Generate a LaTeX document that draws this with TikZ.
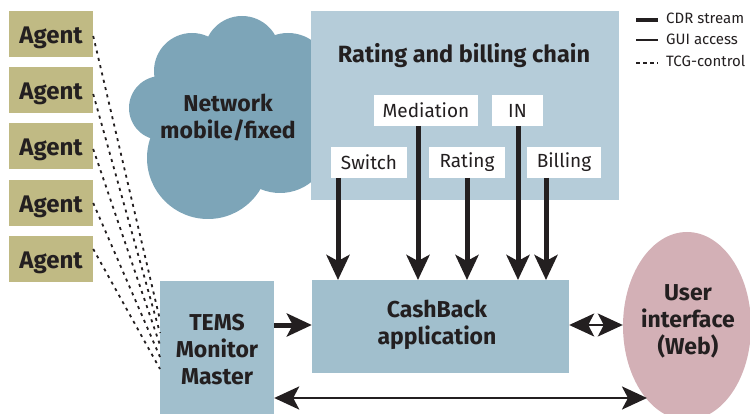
\documentclass[tikz,border=0pt]{standalone}
\usepackage{fontspec}
\setmainfont{Fira Sans}
\usetikzlibrary{arrows.meta,shapes.geometric}
\definecolor{ink}{HTML}{231F20}
\definecolor{agentc}{HTML}{C0BA84}
\definecolor{cloudc}{HTML}{7DA5B8}
\definecolor{chainc}{HTML}{B5CCD9}
\definecolor{boxc}{HTML}{A1BFCD}
\definecolor{uic}{HTML}{D3B0B6}
\tikzset{
  px/.style={x=1pt,y=-1pt},
  agentbox/.style={fill=agentc,minimum width=84pt,minimum height=46pt,inner sep=0pt},
  agenttext/.style={text=ink,font=\fontsize{24}{28}\selectfont\bfseries},
  subbox/.style={fill=white,inner sep=0pt,minimum height=31pt,text=ink,font=\fontsize{19}{22}\selectfont},
  bigtext/.style={text=ink,align=center,font=\fontsize{23}{27}\selectfont\bfseries},
  bluebox/.style={fill=boxc,inner sep=0pt},
  bigtip/.tip={Stealth[length=25pt,width=23pt,inset=6pt]},
  cdr/.style={draw=ink,line width=5pt,-{bigtip}},
  gui/.style={draw=ink,line width=2.8pt,{bigtip}-{bigtip}},
  tcg/.style={draw=ink,line width=1.8pt,dash pattern=on 3pt off 4.5pt},
  legendtext/.style={text=ink,anchor=west,inner sep=0pt,font=\fontsize{15}{17}\selectfont},
}
\begin{document}
\begin{tikzpicture}[px]
\useasboundingbox (0,0) rectangle (750,414);
% cloud
\fill[cloudc] (208,158) circle (61);
\fill[cloudc] (192,71) circle (38);
\fill[cloudc] (242,54) circle (38);
\fill[cloudc] (288,75) circle (42);
\fill[cloudc] (161,108) circle (32);
\fill[cloudc] (280,143) circle (50);
\fill[cloudc] (170,70) rectangle (320,170);
% chain
\node[fill=chainc,minimum width=308pt,minimum height=189pt,inner sep=0pt] (chain) at (465,105.5) {};
\node[text=ink,font=\fontsize{23.5}{27}\selectfont\bfseries] (chaintitle) at (464,56) {Rating and billing chain};
\node[bigtext] (net) at (228,118) {Network\\mobile/fixed};
% agents
\node[agentbox] (a1) at (51,34) {};
\node[agentbox] (a2) at (51,90) {};
\node[agentbox] (a3) at (51,146) {};
\node[agentbox] (a4) at (51,203) {};
\node[agentbox] (a5) at (51,259) {};
\node[agenttext] (a1t) at (51,38) {Agent};
\node[agenttext] (a2t) at (51,94) {Agent};
\node[agenttext] (a3t) at (51,150) {Agent};
\node[agenttext] (a4t) at (51,207) {Agent};
\node[agenttext] (a5t) at (51,263) {Agent};
% sub boxes
\node[subbox,minimum width=104pt] (med) at (426,110.5) {Mediation};
\node[subbox,minimum width=51pt] (in) at (517.5,110.5) {IN};
\node[subbox,minimum width=76pt] (sw) at (369,162.5) {Switch};
\node[subbox,minimum width=76pt] (rat) at (467,162.5) {Rating};
\node[subbox,minimum width=74pt] (bil) at (564,162.5) {Billing};
% main boxes
\node[bluebox,minimum width=114pt,minimum height=133pt] (tems) at (217,347.5) {};
\node[bigtext] (temst) at (217,350) {TEMS\\Monitor\\Master};
\node[bluebox,minimum width=257pt,minimum height=93pt] (cash) at (440.5,326.5) {};
\node[bigtext] (casht) at (437,325) {CashBack\\application};
\node[fill=uic,ellipse,minimum width=128pt,minimum height=188pt,inner sep=0pt] (ui) at (687,326) {};
\node[bigtext] (uit) at (688,321) {User\\interface\\(Web)};
% connectors
\coordinate (swb) at (338,178); \coordinate (swe) at (338,280);
\coordinate (medb) at (418,126); \coordinate (mede) at (418,280);
\coordinate (ratb) at (467,178); \coordinate (rate) at (467,280);
\coordinate (inb) at (518,126); \coordinate (ine) at (518,280);
\coordinate (bilb) at (546,178); \coordinate (bile) at (546,280);
\draw[cdr] (swb) -- (swe);
\draw[cdr] (medb) -- (mede);
\draw[cdr] (ratb) -- (rate);
\draw[cdr] (inb) -- (ine);
\draw[cdr] (bilb) -- (bile);
\draw[cdr] (tems.east |- 0,325) -- (cash.west |- 0,325);
\draw[gui] (tems.east |- 0,398) -- (647,398);
\draw[gui,line width=2pt] (cash.east |- 0,325) -- (ui.west |- 0,325);
% tcg
\coordinate (t1) at (160,320); \coordinate (t2) at (160,333); \coordinate (t3) at (160,345);
\coordinate (t4) at (160,357); \coordinate (t5) at (160,369);
\draw[tcg] ([yshift=-2pt]a1.east) -- (t1);
\draw[tcg] ([yshift=-4pt]a2.east) -- (t2);
\draw[tcg] ([yshift=-3pt]a3.east) -- (t3);
\draw[tcg] (a4.east) -- (t4);
\draw[tcg] ([yshift=10pt]a5.east) -- (t5);
% legend
\coordinate (l1a) at (636,20); \coordinate (l1b) at (658,20);
\coordinate (l2a) at (636,40); \coordinate (l2b) at (658,40);
\coordinate (l3a) at (636,63); \coordinate (l3b) at (658,63);
\draw[ink,line width=4.5pt] (l1a) -- (l1b);
\draw[ink,line width=2pt] (l2a) -- (l2b);
\draw[ink,line width=1.3pt,dash pattern=on 4pt off 3pt] (l3a) -- (l3b);
\node[legendtext] (lt1) at (666,18.5) {CDR stream};
\node[legendtext] (lt2) at (666,39) {GUI access};
\node[legendtext] (lt3) at (666,60.5) {TCG-control};
\end{tikzpicture}
\end{document}
